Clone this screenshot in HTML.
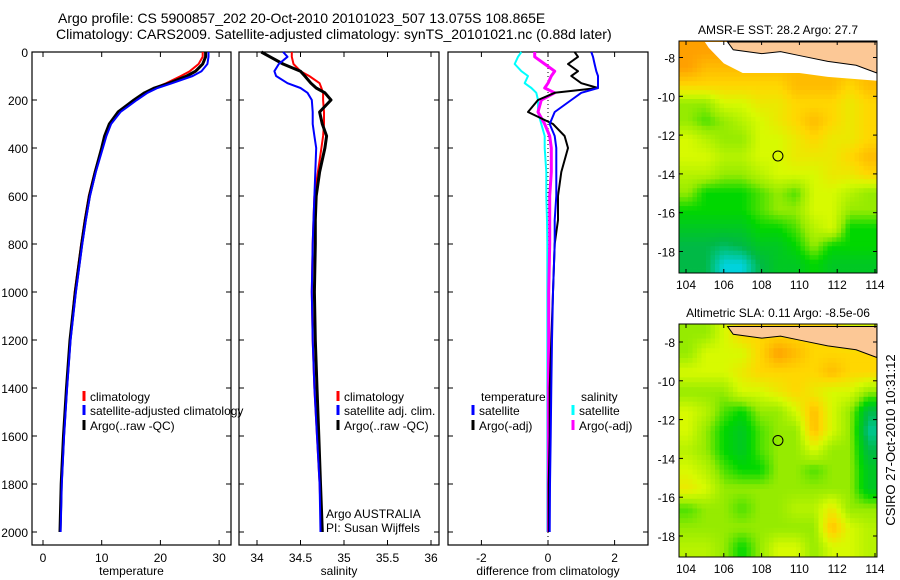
<!DOCTYPE html>
<html><head><meta charset="utf-8"><style>
html,body{margin:0;padding:0;background:#fff;}
svg{display:block;font-family:"Liberation Sans",sans-serif;}
</style></head><body>
<svg id="c" width="900" height="580" viewBox="0 0 900 580">
<text x="58" y="23" font-size="14">Argo profile: CS 5900857_202 20-Oct-2010 20101023_507 13.075S 108.865E</text>
<text x="56" y="39" font-size="14">Climatology: CARS2009. Satellite-adjusted climatology: synTS_20101021.nc (0.88d later)</text>
<text transform="translate(895,440) rotate(-90)" font-size="13" text-anchor="middle">CSIRO 27-Oct-2010 10:31:12</text>
<g id="g"></g>
</svg>
<script>
const depths=[0,20,50,80,100,130,150,170,200,250,300,350,400,500,600,700,800,1000,1200,1400,1600,1800,2000];
const tClim=[27.2,27.2,26.5,25,23.5,21,19,17.5,15.7,13,11.4,10.6,10,8.8,7.8,7.1,6.5,5.4,4.6,4,3.5,3.1,2.9];
const tSat=[28.2,28.2,28,27,25.5,22,19.5,17.8,16,13.2,11.6,10.8,10.2,9,8,7.3,6.7,5.6,4.7,4.1,3.6,3.2,3.0];
const tArgo=[27.7,27.7,27.2,26,24.5,21.5,19,17.3,15.5,12.8,11.3,10.5,10,8.9,7.9,7.2,6.6,5.5,4.6,4,3.5,3.1,2.9];
const sClim=[34.4,34.4,34.42,34.5,34.6,34.72,34.74,34.76,34.76,34.77,34.77,34.76,34.74,34.7,34.66,34.65,34.64,34.63,34.64,34.66,34.69,34.72,34.74];
const sSat=[34.3,34.35,34.25,34.2,34.22,34.35,34.5,34.58,34.63,34.64,34.64,34.66,34.68,34.67,34.66,34.65,34.64,34.63,34.64,34.66,34.69,34.72,34.73];
const sArgo=[34.05,34.15,34.3,34.5,34.55,34.62,34.68,34.78,34.85,34.72,34.75,34.8,34.78,34.72,34.68,34.67,34.67,34.66,34.67,34.69,34.71,34.73,34.75];
const dTSat=[1.3,1.35,1.4,1.45,1.5,1.5,1.5,1.0,0.7,0.2,0.05,0.2,0.25,0.25,0.25,0.2,0.2,0.15,0.12,0.1,0.08,0.06,0.05];
const dTArgo=[0.8,0.9,0.6,0.9,0.7,1.0,1.5,0.2,-0.3,-0.6,0.15,0.5,0.6,0.4,0.3,0.3,0.2,0.15,0.1,0.05,0.05,0.02,0.02];
const dSSat=[-0.8,-0.9,-1.0,-0.8,-0.6,-0.7,-0.5,-0.35,-0.3,-0.3,-0.2,-0.1,-0.1,-0.05,-0.05,-0.03,-0.02,-0.02,-0.02,-0.02,-0.02,-0.02,-0.02];
const dSArgo=[-0.4,-0.4,-0.1,0.2,0.1,0.0,-0.1,0.2,-0.2,-0.3,-0.1,0.05,0.1,0.1,0.05,0.05,0.05,0.02,0.02,0.01,0.01,0.01,0.01];
const depthTicks=[0,200,400,600,800,1000,1200,1400,1600,1800,2000];
const tTicks=[0,10,20,30];
const sTicks=[34,34.5,35,35.5,36];
const dTicks=[-2,0,2];
const sstGrid=[
[6,6,6,6,6,6,6,6,6,6,6],
[6,5.5,5.5,5.5,5.5,5.5,5.5,5.5,5.5,5.5,5.5],
[5,5,5,5,5,5,5.5,5.5,5.5,5,5.5],
[3,3,4,4,4.5,4.5,5,5,5,4.5,5],
[3,2.5,3,3.5,4,4.5,5,5.5,5,4.5,5],
[4,3.5,3,3,4,4,4.5,5,4.5,4.5,5],
[4,4,3.5,3.5,4,4,4.5,4.5,4.5,5,5.5],
[3.5,3.5,3,3,3.5,4,4,4,4.5,4.5,5],
[3,2,2,2,2.5,3,2.5,4,4,3.5,3],
[2,2,2,2,2.5,3,3,4,4,3,3],
[1.5,1.5,1.5,1.5,2,2,2.5,3.5,4,2,2],
[1,1,0.8,1,1.5,1.5,2,3,2,2,2],
[1,1,0,0,1,1.5,1.5,2,1.5,1.5,1.5]];
const slaGrid=[
[3,3,4,5,5,5,5,5,5,4,4],
[3,4,4,4,5,6,5.5,5,5,5,5],
[4,4,4,4.5,5,5,5,5,5.5,5,5],
[3,3,3,4,4,4.5,5,4.5,4,4,3],
[4,3.5,2.5,2,3,3,4,5.5,4,3,1],
[4,3,2,1.5,2.5,3,3,5.5,4,3,0.5],
[3.5,3,2,1.5,2.5,3,3,4,3,3,1],
[4,3.5,2.5,2,2,3,3,2.5,3,3,1.5],
[4.5,4,3,3,3,3,3,3,3,3,1.5],
[2.5,3,3,2.5,3,3,3.5,3.5,4.5,3,3],
[3,3,3,3,3,3,3,3,5.5,4,3.5],
[3.5,3.5,3,2,3,4,4,3,4,4,3.5]];
const lonTicks=[104,106,108,110,112,114];
const latTicks=[-8,-10,-12,-14,-16,-18];

const NS='http://www.w3.org/2000/svg';
const G=document.getElementById('g');
function mk(t,a,p){const e=document.createElementNS(NS,t);for(const k in a)e.setAttribute(k,a[k]);(p||G).appendChild(e);return e;}
const yD=d=>52+d*0.24;
const Y0=52,Y1=545;

function panel(x0,x1,xs,ticks,fmt,label,name,leftLabels){
  const r=mk('rect',{x:x0,y:Y0,width:x1-x0,height:Y1-Y0,fill:'none',stroke:'#000','stroke-width':1.2});
  
  
  ticks.forEach(v=>{const x=xs(v);
    mk('line',{x1:x,x2:x,y1:Y1,y2:Y1-5,stroke:'#000'});mk('line',{x1:x,x2:x,y1:Y0,y2:Y0+5,stroke:'#000'});
    const t=mk('text',{x:x,y:Y1+17,'font-size':12,'text-anchor':'middle'});t.textContent=fmt(v);
    
    });
  depthTicks.forEach(d=>{const y=yD(d);
    mk('line',{x1:x0,x2:x0+5,y1:y,y2:y,stroke:'#000'});mk('line',{x1:x1,x2:x1-5,y1:y,y2:y,stroke:'#000'});
    if(leftLabels){const t=mk('text',{x:x0-4,y:y+5,'font-size':12,'text-anchor':'end'});t.textContent=d;
      
      }});
  const l=mk('text',{x:(x0+x1)/2,y:Y1+30,'font-size':12,'text-anchor':'middle'});l.textContent=label;
  
  
}
function line(xs,vals,color,w,name,dash){
  const pts=vals.map((v,i)=>xs(v).toFixed(1)+','+yD(depths[i]).toFixed(1)).join(' ');
  const p=mk('polyline',{points:pts,fill:'none',stroke:color,'stroke-width':w,'stroke-linejoin':'round'});
  if(dash)p.setAttribute('stroke-dasharray',dash);
  
  
}
function legend(x,y,color,txt,name){
  mk('line',{x1:x,x2:x,y1:y-10,y2:y,stroke:color,'stroke-width':3});
  const t=mk('text',{x:x+6,y:y,'font-size':12});t.textContent=txt;
  
  
}
const xT=v=>43+v*5.87;
panel(32,231,xT,tTicks,v=>v,'temperature','temperature-panel',true);
line(xT,tClim,'#f00',2,'temperature-climatology-line');
line(xT,tArgo,'#000',3,'temperature-argo-line');
line(xT,tSat,'#00f',2,'temperature-satellite-line');
legend(84,401,'#f00','climatology','legend-climatology');
legend(84,415,'#00f','satellite-adjusted climatology','legend-satellite-adjusted');
legend(84,430,'#000','Argo(..raw -QC)','legend-argo');
const xS=v=>257+(v-34)*87;
panel(239,439,xS,sTicks,v=>v,'salinity','salinity-panel',false);
line(xS,sClim,'#f00',2,'salinity-climatology-line');
line(xS,sArgo,'#000',3,'salinity-argo-line');
line(xS,sSat,'#00f',2,'salinity-satellite-line');
legend(338,401,'#f00','climatology','legend-sal-climatology');
legend(338,415,'#00f','satellite adj. clim.','legend-sal-satellite');
legend(338,430,'#000','Argo(..raw -QC)','legend-sal-argo');
[['Argo AUSTRALIA',518],['PI: Susan Wijffels',532]].forEach(a=>{const t=mk('text',{x:326,y:a[1],'font-size':12});t.textContent=a[0];
  
  });
const xDf=v=>548+v*33.3;
panel(448,648,xDf,dTicks,v=>v,'difference from climatology','difference-panel',false);
mk('line',{x1:xDf(0),x2:xDf(0),y1:Y0,y2:Y1,stroke:'#000','stroke-dasharray':'1,3'});
line(xDf,dSSat,'#0ff',2,'salinity-diff-satellite-line');
line(xDf,dSArgo,'#f0f',3,'salinity-diff-argo-line');
line(xDf,dTArgo,'#000',2,'temperature-diff-argo-line');
line(xDf,dTSat,'#00f',2,'temperature-diff-satellite-line');
let t=mk('text',{x:481,y:401,'font-size':12});t.textContent='temperature';


t=mk('text',{x:581,y:401,'font-size':12});t.textContent='salinity';


legend(473,415,'#00f','satellite','legend-diff-temp-satellite');
legend(473,430,'#000','Argo(-adj)','legend-diff-temp-argo');
legend(573,415,'#0ff','satellite','legend-diff-sal-satellite');
legend(573,430,'#f0f','Argo(-adj)','legend-diff-sal-argo');

const stops=[[0,210,220],[0,185,70],[0,215,0],[150,235,0],[215,250,0],[255,215,0],[255,160,0]];
function cmap(v){const i=Math.max(0,Math.min(5,Math.floor(v)));const f=Math.min(1,v-i);const a=stops[i],b=stops[i+1];
  return 'rgb('+a.map((c,k)=>Math.round(c+(b[k]-c)*f)).join(',')+')';}
function sample(grid,fy,fx){
  const R=grid.length,C=grid[0].length;
  const y=Math.max(0,Math.min(R-1,fy-0.5)),x=Math.max(0,Math.min(C-1,fx-0.5));
  const y0=Math.floor(y),x0=Math.floor(x),y1=Math.min(R-1,y0+1),x1=Math.min(C-1,x0+1);
  const a=y-y0,b=x-x0;
  return grid[y0][x0]*(1-a)*(1-b)+grid[y0][x1]*(1-a)*b+grid[y1][x0]*a*(1-b)+grid[y1][x1]*a*b;
}
function map(top,bot,lat8,latScale,grid,title,name,land){
  const L=679,R=877;
  const xL=lon=>686+(lon-104)*18.9;
  const yL=lat=>lat8+(-8-lat)*latScale;
  const S=4;
  const nr=grid.length*S,nc=grid[0].length*S;
  const cw=(R-L)/nc,ch=(bot-top)/nr;
  for(let i=0;i<nr;i++)for(let j=0;j<nc;j++){
    const v=sample(grid,(i+0.5)/S,(j+0.5)/S);
    const c=mk('rect',{x:(L+j*cw).toFixed(2),y:(top+i*ch).toFixed(2),width:(cw+0.4).toFixed(2),height:(ch+0.4).toFixed(2),fill:cmap(v)});
    
    
  }
  if(land){const w=mk('polygon',{points:[[105,-7.2],[105.2,-7.5],[106,-8.3],[107,-8.8],[110,-8.8],[111.5,-9],[114.1,-9.2],[114.1,-7.2]].map(p=>xL(p[0])+','+yL(p[1])).join(' '),fill:'#fff'});
    
    }
  const lp=mk('polygon',{points:[[106.2,-7.2],[106.5,-7.6],[108,-7.8],[109,-7.7],[110,-7.9],[111.5,-8.2],[113,-8.4],[114.1,-8.8],[114.1,-7.2]].map(p=>xL(p[0])+','+yL(p[1])).join(' '),fill:'#fcc896',stroke:'#000','stroke-width':1});
  
  
  const fr=mk('rect',{x:L,y:top,width:R-L,height:bot-top,fill:'none',stroke:'#000'});
  
  
  const ci=mk('circle',{cx:xL(108.865),cy:yL(-13.075),r:5,fill:'none',stroke:'#000'});
  
  
  lonTicks.forEach(v=>{const x=xL(v);mk('line',{x1:x,x2:x,y1:bot,y2:bot-4,stroke:'#000'});mk('line',{x1:x,x2:x,y1:top,y2:top+4,stroke:'#000'});
    const t=mk('text',{x:x,y:bot+16,'font-size':12,'text-anchor':'middle'});t.textContent=v;
    
    });
  latTicks.forEach(v=>{const y=yL(v);mk('line',{x1:L,x2:L+4,y1:y,y2:y,stroke:'#000'});mk('line',{x1:R,x2:R-4,y1:y,y2:y,stroke:'#000'});
    const t=mk('text',{x:L-4,y:y+5,'font-size':12,'text-anchor':'end'});t.textContent=v;
    
    });
  const tt=mk('text',{x:(L+R)/2,y:top-7,'font-size':12,'text-anchor':'middle'});tt.textContent=title;
  
  
}
map(41,273,57.5,19.4,sstGrid,'AMSR-E SST: 28.2 Argo: 27.7','sst-map',true);
map(324,557,342,19.4,slaGrid,'Altimetric SLA: 0.11 Argo: -8.5e-06','sla-map',false);
</script>
</body></html>
